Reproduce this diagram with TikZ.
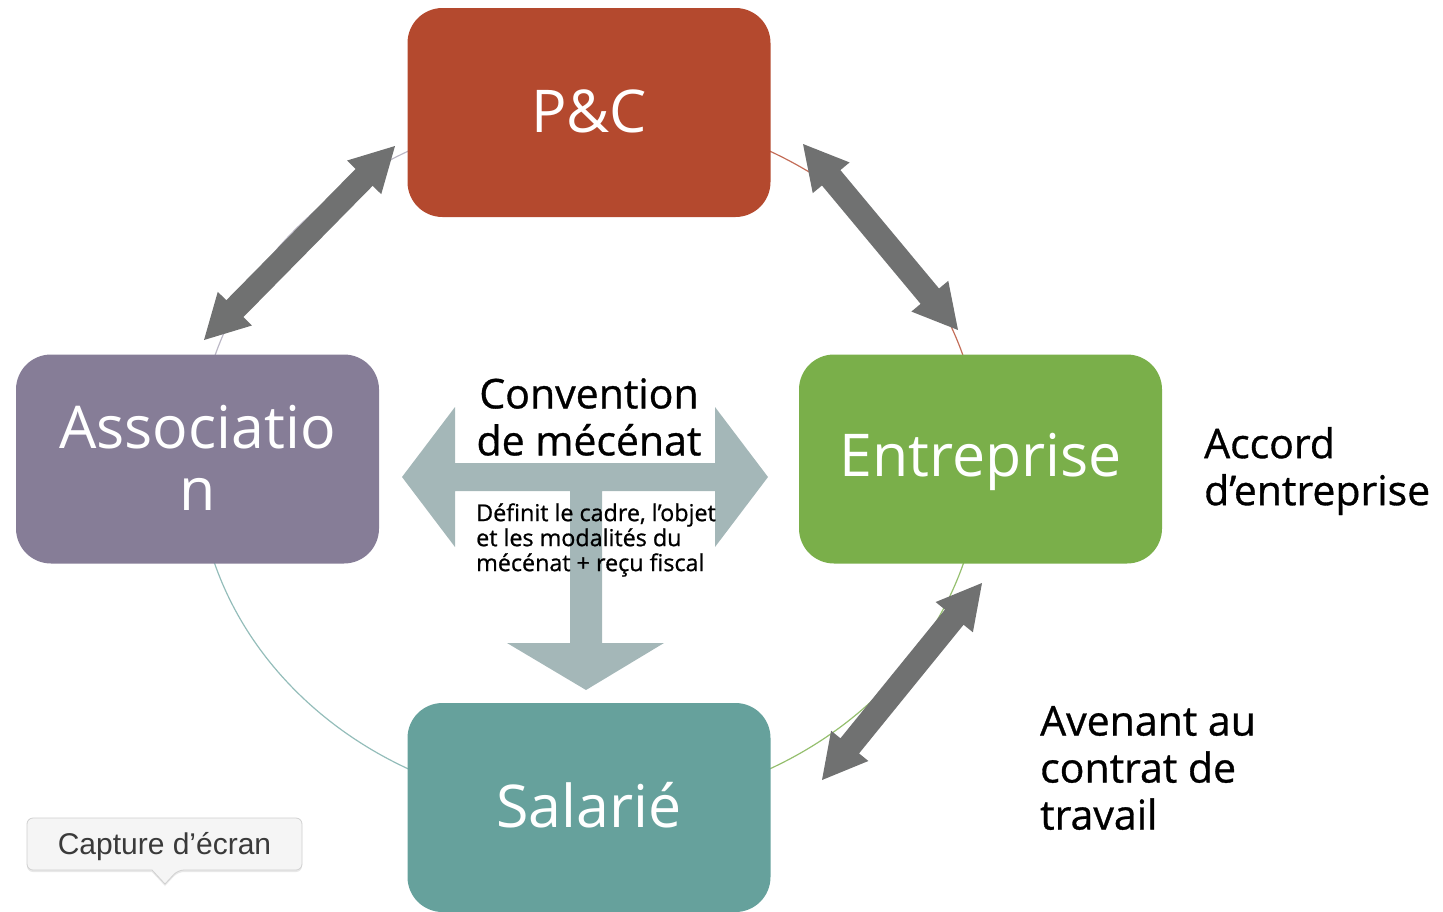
\documentclass[tikz,border=0pt]{standalone}
\usepackage{fontspec}
\setmainfont{Open Sans}
\newfontfamily\labfont[FakeBold=0.8]{Open Sans}
\newfontfamily\tipfont{Liberation Sans}
\usetikzlibrary{calc,shadows}
\definecolor{pccol}{RGB}{180,73,46}
\definecolor{assocol}{RGB}{134,125,151}
\definecolor{entrcol}{RGB}{122,175,74}
\definecolor{salcol}{RGB}{102,161,156}
\definecolor{arrgray}{RGB}{112,113,113}
\definecolor{tcol}{RGB}{164,183,184}
\definecolor{tipfill}{RGB}{245,245,245}
\definecolor{tipline}{RGB}{208,208,208}
\definecolor{tiptext}{RGB}{58,58,58}
\tikzset{
  box/.style={rounded corners=35pt, minimum width=363pt, minimum height=209pt,
    inner sep=0pt, fill=#1},
  boxtext/.style={text=white, font=\fontsize{59}{62}\selectfont, align=center, inner sep=0pt},
  biglabel/.style={font=\labfont\fontsize{41}{47}\selectfont, align=left, inner sep=0pt, text=black},
  smalllabel/.style={font=\labfont\fontsize{23.3}{25}\selectfont, align=left, inner sep=0pt, text=black},
  ring/.style={line width=1.2pt},
  blockfill/.style={fill=arrgray},
}
\newcommand\blockarrow[3][]{%
  \path (#2); \pgfgetlastxy{\bax}{\bay}%
  \path (#3); \pgfgetlastxy{\bbx}{\bby}%
  \pgfmathsetmacro\bang{atan2(\bby-\bay,\bbx-\bax)}%
  \pgfmathsetmacro\blen{veclen(\bbx-\bax,\bby-\bay)}%
  \pgfmathsetmacro\bbase{\blen-44}%
  \begin{scope}[shift={(\bax,\bay)},rotate=\bang]
    \fill[#1] (0,0) -- (44,24) -- (44,12) -- (\bbase,12) -- (\bbase,24) -- (\blen,0)
      -- (\bbase,-24) -- (\bbase,-12) -- (44,-12) -- (44,-24) -- cycle;
  \end{scope}}
\begin{document}
\begin{tikzpicture}[x=1pt,y=-1pt]
\useasboundingbox (0,0) rectangle (1443,911);
\begin{scope}
\clip (0,0) rectangle (1443,911);
% ring
\draw[ring, entrcol!80] (981,460) arc[start angle=0, end angle=90, x radius=392, y radius=348];
\draw[ring, salcol!70] (589,808) arc[start angle=90, end angle=180, x radius=392, y radius=348];
\draw[ring, assocol!55] (197,460) arc[start angle=180, end angle=270, x radius=392, y radius=348];
\draw[ring, pccol!80] (589,112) arc[start angle=270, end angle=360, x radius=392, y radius=348];
% boxes
\node[box=pccol] (pc) at (589,112.5) {};
\node[box=assocol] (asso) at (197.5,459) {};
\node[box=entrcol] (entr) at (980.5,459) {};
\node[box=salcol] (sal) at (589,807.5) {};
\node[boxtext] (pct) at (589,111) {P\&C};
\node[boxtext] (assot) at (197.5,458) {Associatio\\n};
\node[boxtext] (entrt) at (980.5,462) {Entreprise};
\node[boxtext] (salt) at (589,805) {Salarié};
% gray double arrows
\coordinate (a1s) at (204,340); \coordinate (a1e) at (395,146);
\coordinate (a2s) at (803,144); \coordinate (a2e) at (958,330);
\coordinate (a3s) at (982,583); \coordinate (a3e) at (822,780);
\blockarrow[blockfill]{a1s}{a1e}
\blockarrow[blockfill]{a2s}{a2e}
\blockarrow[blockfill]{a3s}{a3e}
% central T arrow
\fill[tcol] (402,477) -- (455,407) -- (455,463) -- (715,463) -- (715,407) -- (768,477)
  -- (715,547) -- (715,491) -- (602,491) -- (602,643) -- (664,643) -- (586,690)
  -- (507,643) -- (570,643) -- (570,491) -- (455,491) -- (455,547) -- cycle;
\node[biglabel, align=center] (conv) at (589,417) {Convention\\de mécénat};
\node[smalllabel, anchor=west] (def) at (476,540) {Définit le cadre, l’objet\\et les modalités du\\mécénat + reçu fiscal};
% side labels
\node[biglabel, anchor=west] (accord) at (1204,471) {Accord\\d’entreprise};
\node[biglabel, anchor=west] (avenant) at (1040,768) {Avenant au\\contrat de\\travail};
% tooltip
\draw[fill=tipfill, draw=tipline, line width=0.8pt, drop shadow={opacity=0.18, shadow xshift=0pt, shadow yshift=-2pt}]
  [rounded corners=6pt] (27,818) -- (302,818) -- (302,870) -- (178,870)
  [sharp corners] -- (165,884) -- (152,870)
  [rounded corners=6pt] -- (27,870) -- cycle;
\node[font=\tipfont\fontsize{30}{30}\selectfont, text=tiptext, inner sep=0pt] (tip) at (164.5,847) {Capture d’écran};
\end{scope}
\end{tikzpicture}
\end{document}
